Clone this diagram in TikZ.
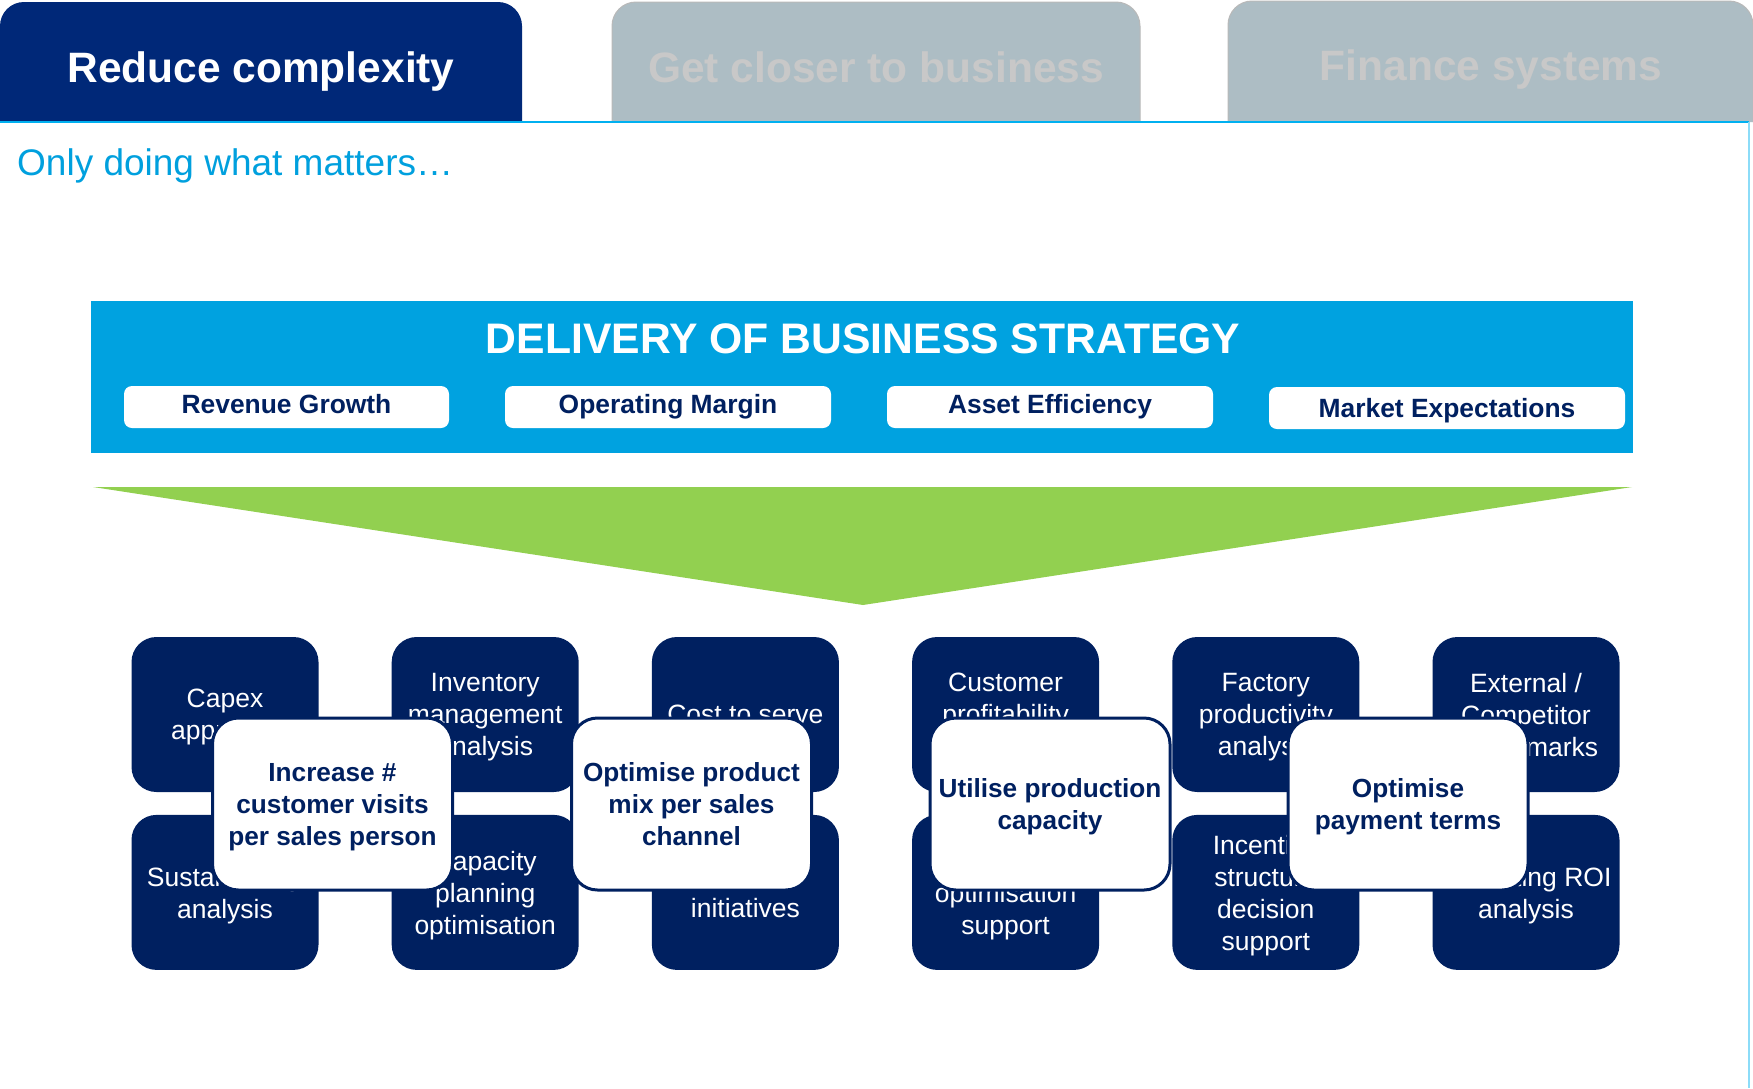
\documentclass[tikz,border=0pt]{standalone}
\usepackage{fontspec}
\setmainfont{Liberation Sans}
\usetikzlibrary{positioning}

\definecolor{navy}{RGB}{0,32,96}
\definecolor{tabnavy}{RGB}{0,40,120}
\definecolor{skyblue}{RGB}{0,162,224}
\definecolor{leafgreen}{RGB}{146,208,80}
\definecolor{tabgray}{RGB}{173,189,196}
\definecolor{fadegray}{RGB}{200,200,200}
\definecolor{linecyan}{RGB}{0,176,240}
\definecolor{subblue}{RGB}{0,160,222}

\tikzstyle{tabtext} = [font=\bfseries\fontsize{42.5}{50}\selectfont, anchor=base, inner sep=0pt]
\tikzstyle{pill} = [fill=white, rounded corners=8pt, minimum height=42pt,
    text=navy, font=\bfseries\fontsize{26.4}{32}\selectfont,
    text height=19pt, text depth=6pt, inner sep=0pt]
\tikzstyle{tile} = [fill=navy, rounded corners=25pt, minimum width=187pt,
    minimum height=155pt, text=white, align=center, inner sep=0pt,
    text depth=-2.5pt, font=\fontsize{26.5}{32}\selectfont]
\tikzstyle{lever} = [draw=navy, line width=3pt, fill=white, rounded corners=26pt,
    minimum width=240pt, minimum height=172pt, text=navy, align=center,
    inner sep=0pt, text depth=-3.5pt, font=\bfseries\fontsize{26.2}{32}\selectfont]

\begin{document}
\begin{tikzpicture}[x=1pt,y=-1pt]
      \fill[white] (0,0) rectangle (1753,1088);
      \useasboundingbox (0,0) rectangle (1753,1088);

      % tabs
      \fill[tabnavy] (0,122) [rounded corners=24pt] -- (0,2) -- (522,2) [sharp corners] -- (522,122) -- cycle;
      \filldraw[fill=tabgray, draw=gray!55, line width=1pt] (612,122) [rounded corners=24pt] -- (612,2) -- (1140,2) [sharp corners] -- (1140,122);
      \filldraw[fill=tabgray, draw=gray!55, line width=1pt] (1228,122) [rounded corners=24pt] -- (1228,1) -- (1753,1) [sharp corners] -- (1753,122);
      \node[tabtext, text=white] (reduce) at (261,82) {Reduce complexity};
      \node[tabtext, text=fadegray] (closer) at (876,82) {Get closer to business};
      \node[tabtext, text=fadegray] (systems) at (1491,80) {Finance systems};
      \draw[linecyan, line width=2.5pt] (0,122) -- (1749,122);
      \draw[linecyan!45, line width=1.2pt] (1749,122) -- (1749,1088);

      \node[anchor=base west, inner sep=0pt, text=subblue, font=\fontsize{37}{44}\selectfont] (motto) at (17,175) {Only doing what matters…};

      % strategy banner
      \node[fill=skyblue, minimum width=1542pt, minimum height=152pt, inner sep=0pt] (banner) at (862,377) {};
      \node[anchor=base, inner sep=0pt, text=white, font=\bfseries\fontsize{42.7}{50}\selectfont] (strategy) at (863,353) {DELIVERY OF BUSINESS STRATEGY};
      \node[pill, minimum width=325pt] (revenue) at (286.5,407) {Revenue Growth};
      \node[pill, minimum width=326pt] (margin) at (668,407) {Operating Margin};
      \node[pill, minimum width=326pt] (asset) at (1050,407) {Asset Efficiency};
      \node[pill, minimum width=356pt, text depth=-2pt] (market) at (1447,408) {Market Expectations};

      \fill[leafgreen] (93,487) -- (1632,487) -- (863,605) -- cycle;

      % analysis tiles
      \node[tile] (capex) at (225,714.5) {Capex\\appraisal};
      \node[tile, right=72.8pt of capex] (inventory) {Inventory\\management\\analysis};
      \node[tile, right=72.8pt of inventory] (serve) {Cost to serve};
      \node[tile, right=72.8pt of serve] (profit) {Customer\\profitability\\analysis};
      \node[tile, right=72.8pt of profit] (factory) {Factory\\productivity\\analysis};
      \node[tile, right=72.8pt of factory] (bench) {External /\\Competitor\\benchmarks};
      \node[tile, below=22.5pt of capex] (sustain) {Sustainability\\analysis};
      \node[tile, below=22.5pt of inventory] (capacity) {Capacity\\planning\\optimisation};
      \node[tile, below=22.5pt of serve] (costout) {Cost out\\initiatives};
      \node[tile, below=22.5pt of profit] (pricing) {Pricing\\optimisation\\support};
      \node[tile, below=22.5pt of factory] (incentive) {Incentive\\structure\\decision\\support};
      \node[tile, below=22.5pt of bench] (roi) {Marketing ROI\\analysis};

      % value levers
      \node[lever] (visits) at (332.5,804) {Increase \#\\customer visits\\per sales person};
      \node[lever] (mix) at (691.5,804) {Optimise product\\mix per sales\\channel};
      \node[lever] (utilise) at (1050,804) {Utilise production\\capacity};
      \node[lever] (terms) at (1408,804) {Optimise\\payment terms};
\end{tikzpicture}
\end{document}
